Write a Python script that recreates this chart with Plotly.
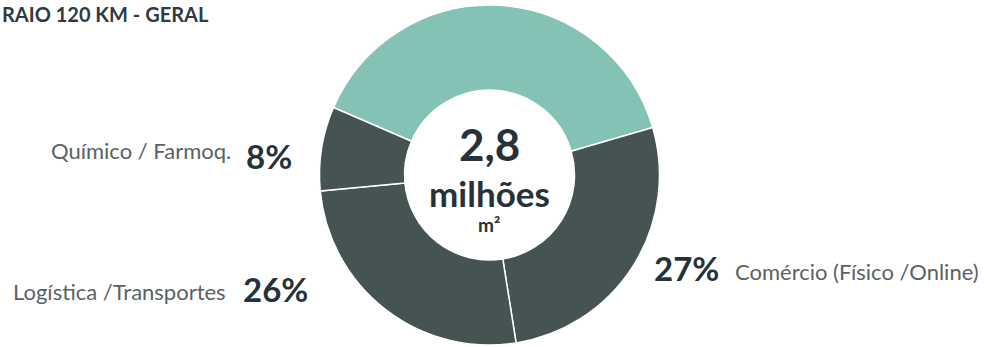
import plotly.graph_objects as go

# Data
categories = ["Indústria / Outros", "Comércio (Físico /Online)", "Logística /Transportes", "Químico / Farmoq."]
shares = [39, 27, 26, 8]
slice_colors = ["#84C2B5", "#455453", "#455453", "#455453"]
title_text = "RAIO 120 KM - GERAL"
center_value = "2,8"
center_unit = "milhões"
center_sub = "m²"

W, H = 984, 347
FONT = "Lato, 'Source Sans Pro', 'Noto Sans', sans-serif"
DARK = "#263238"
GREY = "#5b6264"

def px(x):
    return x / W

def py(y):
    return 1 - y / H

fig = go.Figure(go.Pie(
    labels=categories,
    values=shares,
    sort=False,
    direction="clockwise",
    rotation=-66.6,
    hole=0.5,
    marker=dict(colors=slice_colors, line=dict(color="white", width=1.5)),
    textinfo="none",
    hoverinfo="label+percent",
    domain=dict(x=[px(319.5), px(659.5)], y=[py(345), py(5)]),
    showlegend=False,
))

ann = []
def add(text, x, y, xanchor, yanchor, size, color, bold=False):
    t = f"<b>{text}</b>" if bold else text
    ann.append(dict(text=t, x=px(x), y=py(y), xref="paper", yref="paper",
                    xanchor=xanchor, yanchor=yanchor, showarrow=False,
                    font=dict(family=FONT, size=size, color=color)))

add(title_text, 0, 0, "left", "top", 20, "#2f3b40", True)
add("Químico / Farmoq.", 233, 150, "right", "middle", 22, GREY)
add("8%", 244, 156, "left", "middle", 33, DARK, True)
add("Logística /Transportes", 228, 291, "right", "middle", 22, GREY)
add("26%", 241, 289, "left", "middle", 33, DARK, True)
add("27%", 652, 268, "left", "middle", 33, DARK, True)
add("Comércio (Físico /Online)", 733, 271, "left", "middle", 22, GREY)
add(center_value, 489, 144, "center", "middle", 44, DARK, True)
add(center_unit, 489, 193, "center", "middle", 35, DARK, True)
add(center_sub, 489, 211, "center", "top", 19, DARK, True)

fig.update_layout(
    width=W, height=H,
    margin=dict(l=0, r=0, t=0, b=0),
    paper_bgcolor="white", plot_bgcolor="white",
    annotations=ann,
)

fig.write_html(
    "out.html",
    config={"displayModeBar": False},
    post_script="document.body.style.margin='0';document.body.style.overflow='hidden';",
)
